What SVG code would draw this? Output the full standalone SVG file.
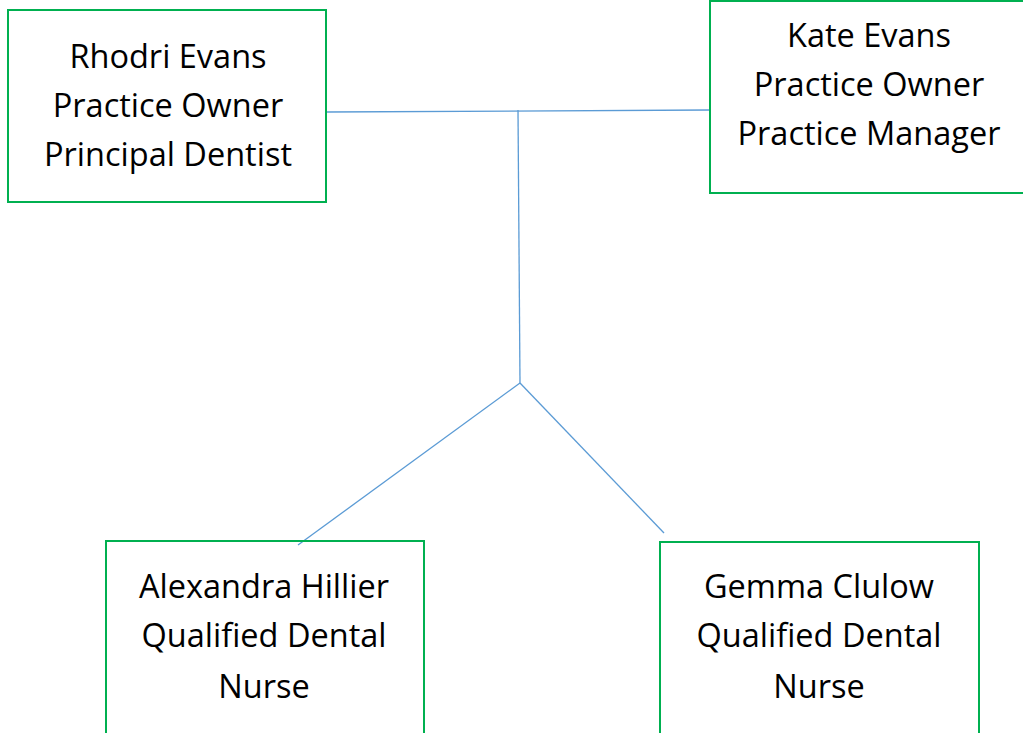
<svg xmlns="http://www.w3.org/2000/svg" width="1023" height="733" viewBox="0 0 1023 733">
<style>
.box{fill:none;stroke:#00B050;stroke-width:2}
.t{font-family:"Open Sans","Noto Sans",sans-serif;font-size:32.5px;fill:#000;text-anchor:middle}
.c{stroke:#5B9BD5;stroke-width:1.3;fill:none}
</style>
<rect width="1023" height="733" fill="#fff"/>
<g id="connectors">
<line class="c" x1="327" y1="112" x2="709" y2="110"/>
<line class="c" x1="518" y1="110" x2="520" y2="383"/>
<line class="c" x1="520" y1="383" x2="298" y2="545"/>
<line class="c" x1="520" y1="383" x2="664" y2="533"/>
</g>
<g id="rhodri">
<rect class="box" x="8" y="10" width="318" height="192"/>
<text class="t" x="168" y="68">Rhodri Evans</text>
<text class="t" x="168" y="117">Practice Owner</text>
<text class="t" x="168" y="166">Principal Dentist</text>
</g>
<g id="kate">
<rect class="box" x="710" y="1" width="320" height="192"/>
<text class="t" x="869" y="47">Kate Evans</text>
<text class="t" x="869" y="96">Practice Owner</text>
<text class="t" x="869" y="145">Practice Manager</text>
</g>
<g id="alexandra">
<rect class="box" x="106" y="541" width="318" height="200"/>
<text class="t" x="264" y="598">Alexandra Hillier</text>
<text class="t" x="264" y="647">Qualified Dental</text>
<text class="t" x="264" y="698">Nurse</text>
</g>
<g id="gemma">
<rect class="box" x="660" y="542" width="319" height="200"/>
<text class="t" x="819" y="598">Gemma Clulow</text>
<text class="t" x="819" y="647">Qualified Dental</text>
<text class="t" x="819" y="698">Nurse</text>
</g>
</svg>
